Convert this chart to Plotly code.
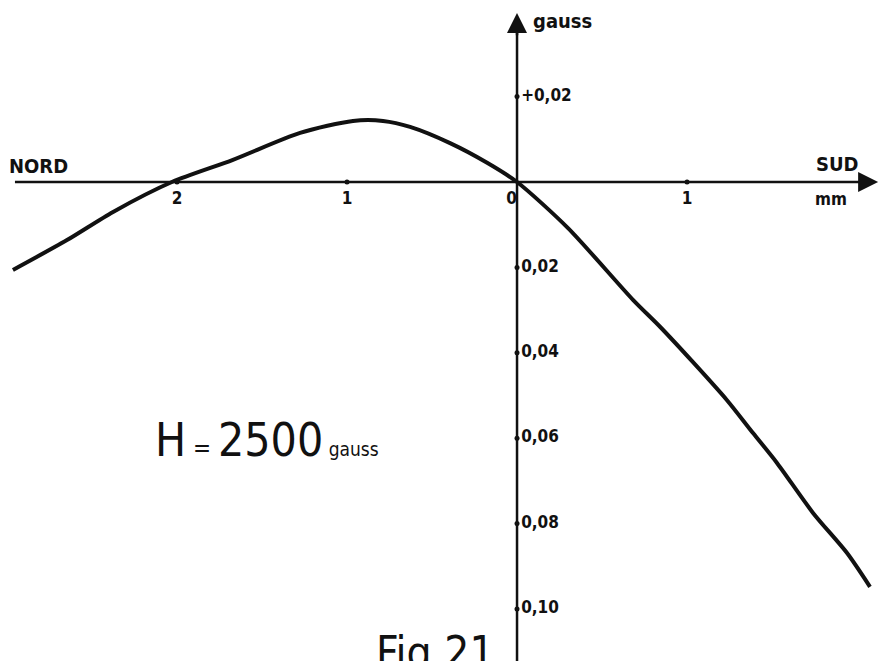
import plotly.graph_objects as go

# champ mesuré (gauss) en fonction de la position (mm), NORD < 0 < SUD
pos_mm = [-2.965, -2.647, -2.376, -2.03, -1.671, -1.276, -0.965, -0.788, -0.629,
          -0.394, -0.176, 0.0, 0.3, 0.682, 0.841, 1.035, 1.235, 1.388, 1.529,
          1.741, 1.941, 2.076]
champ = [-0.0206, -0.0136, -0.0070, 0.0, 0.0052, 0.0115, 0.0143, 0.0143, 0.0129,
         0.0091, 0.0045, 0.0, -0.0108, -0.0276, -0.0339, -0.0422, -0.0511,
         -0.0588, -0.0658, -0.0775, -0.0869, -0.0948]

x_ticks = [-2, -1, 0, 1]
x_labels = ["2", "1", "0", "1"]
y_ticks = [0.02, -0.02, -0.04, -0.06, -0.08, -0.10]
y_labels = ["+0,02", "0,02", "0,04", "0,06", "0,08", "0,10"]

x_range = [-3.041, 2.129]
y_range = [-0.11218, 0.04262]

ink = "#111111"
font_main = "DejaVu Sans Condensed, DejaVu Sans, sans-serif"
font_big = "Liberation Sans Narrow, DejaVu Sans Condensed, sans-serif"

fig = go.Figure()

# axe horizontal
fig.add_trace(go.Scatter(x=[-2.953, 2.10], y=[0, 0], mode="lines",
                         line=dict(color=ink, width=2.5), hoverinfo="skip"))
# axe vertical
fig.add_trace(go.Scatter(x=[0, 0], y=[0.037, y_range[0]], mode="lines",
                         line=dict(color=ink, width=2.5), hoverinfo="skip"))

# courbe
fig.add_trace(go.Scatter(x=pos_mm, y=champ, mode="lines",
                         line=dict(color=ink, width=4, shape="spline", smoothing=0.75),
                         hoverinfo="skip"))

# graduations x
xt = [v for v in x_ticks if v != 0]
fig.add_trace(go.Scatter(x=xt, y=[0] * len(xt), mode="markers",
                         marker=dict(color=ink, size=5), hoverinfo="skip"))
fig.add_trace(go.Scatter(x=x_ticks, y=[-0.0022] * len(x_ticks), mode="text",
                         text=x_labels,
                         textposition=["bottom center", "bottom center", "bottom left", "bottom center"],
                         textfont=dict(family=font_main, size=17, color=ink, weight="bold"),
                         hoverinfo="skip"))

# graduations y
fig.add_trace(go.Scatter(x=[0] * len(y_ticks), y=y_ticks, mode="markers+text",
                         text=y_labels, textposition="middle right",
                         marker=dict(color=ink, size=5),
                         textfont=dict(family=font_main, size=17, color=ink, weight="bold"),
                         hoverinfo="skip"))

# flèches
fig.add_annotation(x=2.124, y=0, ax=2.0, ay=0, xref="x", yref="y", axref="x", ayref="y",
                   showarrow=True, arrowhead=2, arrowsize=1.6, arrowwidth=2.5,
                   arrowcolor=ink, text="")
fig.add_annotation(x=0, y=0.0396, ax=0, ay=0.034, xref="x", yref="y", axref="x", ayref="y",
                   showarrow=True, arrowhead=2, arrowsize=1.6, arrowwidth=2.5,
                   arrowcolor=ink, text="")

lab = dict(family=font_main, size=20, color=ink, weight="bold")
fig.add_annotation(x=-3.0, y=0.0005, xref="x", yref="y", text="NORD", showarrow=False,
                   xanchor="left", yanchor="bottom", font=lab)
fig.add_annotation(x=1.745, y=0.001, xref="x", yref="y", text="SUD", showarrow=False,
                   xanchor="left", yanchor="bottom", font=lab)
fig.add_annotation(x=1.74, y=-0.0012, xref="x", yref="y", text="mm", showarrow=False,
                   xanchor="left", yanchor="top", font=dict(family=font_main, size=17, color=ink, weight="bold"))
fig.add_annotation(x=0.085, y=0.041, xref="x", yref="y", text="gauss", showarrow=False,
                   xanchor="left", yanchor="top", font=dict(family=font_main, size=20, color=ink, weight="bold"))

fig.add_annotation(x=-2.14, y=-0.0605, xref="x", yref="y",
                   text="H<span style='font-size:24px'> = </span>2500<span style='font-size:19px'> gauss</span>",
                   showarrow=False, xanchor="left", yanchor="middle",
                   font=dict(family=font_big, size=46, color=ink))
fig.add_annotation(x=-0.84, y=-0.1038, xref="x", yref="y", text="Fig.21", showarrow=False,
                   xanchor="left", yanchor="top", font=dict(family=font_big, size=44, color=ink))

fig.update_xaxes(visible=False, range=x_range)
fig.update_yaxes(visible=False, range=y_range)
fig.update_layout(width=879, height=661, margin=dict(l=0, r=0, t=0, b=0),
                  paper_bgcolor="white", plot_bgcolor="white", showlegend=False)

fig.write_html("out.html", config={"displayModeBar": False},
               post_script="document.body.style.margin='0';")
